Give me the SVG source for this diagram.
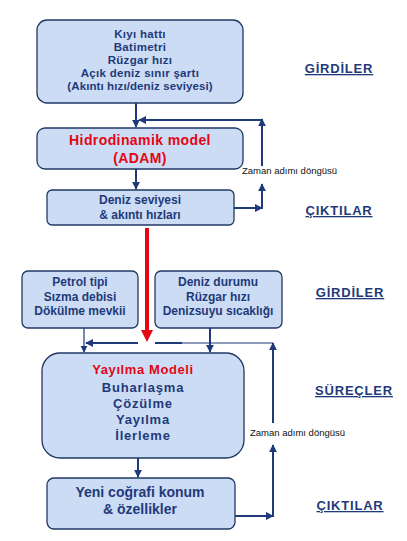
<svg xmlns="http://www.w3.org/2000/svg" width="407" height="541" viewBox="0 0 407 541">
<style>
.box{fill:#CCDCF4;stroke:#1F3864;stroke-width:1.3}
.t{font-family:"Liberation Sans",Arial,sans-serif;font-weight:bold;fill:#1F3A7A;text-anchor:middle}
.red{fill:#E30613}
.lab{font-family:"Liberation Sans",Arial,sans-serif;font-weight:bold;fill:#1F3A7A;font-size:13px;text-anchor:middle;text-decoration:underline;letter-spacing:0.8px}
.loop{font-family:"Liberation Sans",Arial,sans-serif;font-size:9.5px;fill:#111}
.ln{stroke:#1F3A7A;stroke-width:2;fill:none}
.thin{stroke:#1F3A7A;stroke-width:1.2;fill:none}
</style>
<defs>
<marker id="ah" viewBox="0 0 10 10" refX="9" refY="5" markerWidth="4" markerHeight="4" orient="auto" markerUnits="strokeWidth">
<path d="M0,0 L10,5 L0,10 Z" fill="#1F3A7A"/>
</marker>
<marker id="ah2" viewBox="0 0 10 10" refX="9" refY="5" markerWidth="6" markerHeight="6" orient="auto" markerUnits="strokeWidth">
<path d="M0,0 L10,5 L0,10 Z" fill="#1F3A7A"/>
</marker>
</defs>
<rect width="407" height="541" fill="#fff"/>

<g id="n1">
<rect class="box" x="37" y="20" width="206" height="83" rx="10"/>
<text class="t" font-size="11.5" x="140" y="38" letter-spacing="0.3">Kıyı hattı</text>
<text class="t" font-size="11.5" x="140" y="51" letter-spacing="0.3">Batimetri</text>
<text class="t" font-size="11.5" x="140" y="64" letter-spacing="0.3">Rüzgar hızı</text>
<text class="t" font-size="11.5" x="140" y="77" letter-spacing="0.3">Açık deniz sınır şartı</text>
<text class="t" font-size="11.5" x="140" y="90" letter-spacing="0.1">(Akıntı hızı/deniz seviyesi)</text>
</g>

<g id="n2">
<rect class="box" x="37" y="128" width="206" height="41" rx="8"/>
<text class="t red" font-size="14" x="140" y="145" letter-spacing="0.4">Hidrodinamik model</text>
<text class="t red" font-size="14" x="140" y="163" letter-spacing="0.4">(ADAM)</text>
</g>

<g id="n3">
<rect class="box" x="47" y="190" width="187" height="35" rx="5"/>
<text class="t" font-size="12" x="140" y="204">Deniz seviyesi</text>
<text class="t" font-size="12" x="140" y="219">&amp; akıntı hızları</text>
</g>

<g id="n4">
<rect class="box" x="22" y="271" width="116" height="57" rx="6"/>
<text class="t" font-size="12" x="80" y="286">Petrol tipi</text>
<text class="t" font-size="12" x="80" y="301">Sızma debisi</text>
<text class="t" font-size="12" x="80" y="315">Dökülme mevkii</text>
</g>

<g id="n5">
<rect class="box" x="155" y="271" width="127" height="57" rx="6"/>
<text class="t" font-size="12" x="218" y="286">Deniz durumu</text>
<text class="t" font-size="12" x="218" y="301">Rüzgar hızı</text>
<text class="t" font-size="12" x="218" y="315">Denizsuyu sıcaklığı</text>
</g>

<g id="n6">
<rect class="box" x="42" y="353" width="202" height="105" rx="18"/>
<text class="t red" font-size="13" x="143" y="374" letter-spacing="0.6">Yayılma Modeli</text>
<text class="t" font-size="13" x="143" y="392" letter-spacing="0.8">Buharlaşma</text>
<text class="t" font-size="13" x="143" y="408" letter-spacing="0.8">Çözülme</text>
<text class="t" font-size="13" x="143" y="424" letter-spacing="0.8">Yayılma</text>
<text class="t" font-size="13" x="143" y="440" letter-spacing="0.8">İlerleme</text>
</g>

<g id="n7">
<rect class="box" x="47" y="478" width="188" height="51" rx="7"/>
<text class="t" font-size="14" x="140" y="497">Yeni coğrafi konum</text>
<text class="t" font-size="14" x="140" y="514">&amp; özellikler</text>
</g>

<g id="labels">
<text class="lab" x="339" y="73">GİRDİLER</text>
<text class="lab" x="339" y="215">ÇIKTILAR</text>
<text class="lab" x="350" y="297">GİRDİLER</text>
<text class="lab" x="354" y="395">SÜREÇLER</text>
<text class="lab" x="350" y="510">ÇIKTILAR</text>
<text class="loop" x="242" y="174">Zaman adımı döngüsü</text>
<text class="loop" x="250" y="436">Zaman adımı döngüsü</text>
</g>

<g id="connectors">
<line class="ln" x1="136" y1="103" x2="136" y2="127" marker-end="url(#ah)"/>
<line class="ln" x1="262" y1="120" x2="139" y2="120" marker-end="url(#ah)"/>
<line class="ln" x1="262" y1="166" x2="262" y2="119" marker-end="url(#ah)"/>
<line class="ln" x1="136" y1="169" x2="136" y2="189" marker-end="url(#ah)"/>
<line class="ln" x1="234" y1="208" x2="262" y2="208" marker-end="url(#ah)"/>
<line class="ln" x1="262" y1="209" x2="262" y2="184" marker-end="url(#ah)"/>

<line class="thin" x1="84" y1="328" x2="84" y2="352" marker-end="url(#ah2)"/>
<line class="ln" x1="138" y1="343" x2="86" y2="343" marker-end="url(#ah)"/>
<line class="ln" x1="155" y1="343" x2="182" y2="343"/>
<line class="thin" x1="182" y1="343" x2="273" y2="343"/>
<line class="ln" x1="210" y1="328" x2="210" y2="352" marker-end="url(#ah)"/>
<line class="ln" x1="273" y1="423" x2="273" y2="343" marker-end="url(#ah)"/>

<line class="ln" x1="138" y1="458" x2="138" y2="477" marker-end="url(#ah)"/>
<line class="ln" x1="235" y1="516" x2="273" y2="516" marker-end="url(#ah)"/>
<line class="ln" x1="273" y1="517" x2="273" y2="445" marker-end="url(#ah)"/>

<line x1="147" y1="228" x2="147" y2="331" stroke="#E30613" stroke-width="4"/>
<path d="M141,330 L153,330 L147,342 Z" fill="#E30613"/>
</g>
</svg>
